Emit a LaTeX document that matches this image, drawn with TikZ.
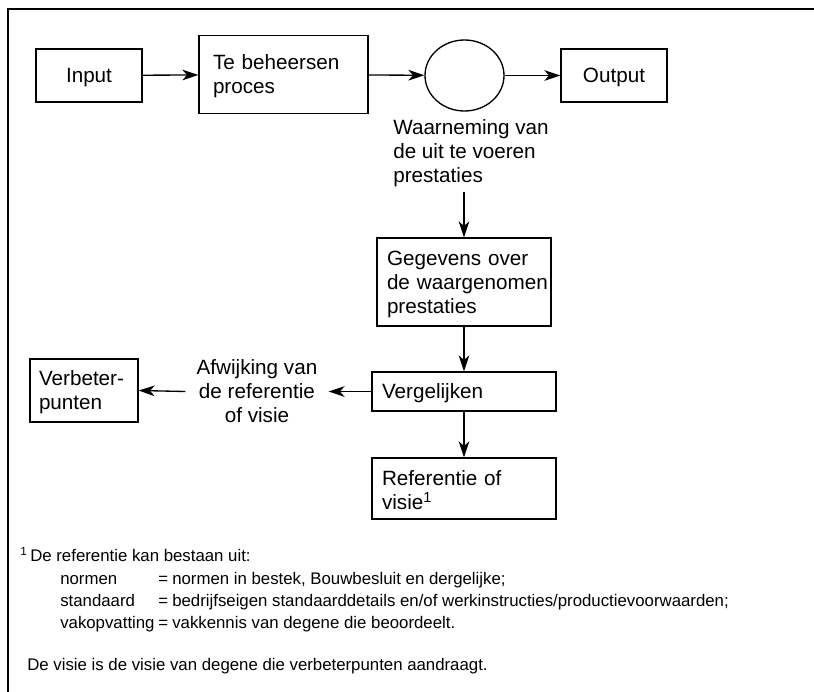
\documentclass[tikz,border=0pt]{standalone}
\usepackage{fontspec}
\setmainfont{Liberation Sans}
\usetikzlibrary{arrows.meta,shapes.geometric}
\newcommand\dn{\rule{0pt}{13.8pt}}
\begin{document}
\begin{tikzpicture}[x=0.75pt,y=-0.75pt,
  every node/.style={font=\fontsize{15.5}{18}\selectfont},
  box/.style={draw,line width=1pt,inner ysep=0pt},
  lbox/.style={box,align=left},
  arr/.style={-{Stealth[length=12pt,width=8pt,inset=3.5pt]},line width=1pt},
  lbl/.style={inner sep=0pt,align=left},
  foot/.style={inner sep=0pt,anchor=base west,font=\fontsize{12.6}{16}\selectfont}]
\useasboundingbox (0,0) rectangle (814,692);
% frame
\draw[line width=1.1pt] (8,692) -- (8,9) -- (814,9);
% top row
\node[box,minimum width=79.5pt,minimum height=39.75pt] (inp) at (89,75.5) {\dn Input};
\node[lbox,minimum height=58.5pt,inner xsep=10.5pt,text width=105.75pt] (tbp) at (283.5,74.5) {\dn Te beheersen\\proces};
\node[draw,line width=1pt,ellipse,inner sep=0pt,minimum width=59.25pt,minimum height=53.25pt] (ell) at (464.5,75.5) {};
\node[box,minimum width=79.5pt,minimum height=39.75pt] (out) at (614,75.5) {\dn Output};
\draw[arr] (inp) -- (tbp);
\draw[arr] (tbp) -- (ell);
\draw[arr] (ell) -- (out);
% observation text
\node[lbl,anchor=west] (waar) at (393,153) {Waarneming van\\de uit te voeren\\prestaties};
% middle column
\node[lbox,minimum height=66pt,inner xsep=7.5pt,text width=115.5pt] (gege) at (464,282) {\dn Gegevens over\\\mbox{de waargenomen}\\prestaties};
\node[lbox,minimum height=29.25pt,inner xsep=7.5pt,text width=123pt] (verg) at (464,391.5) {\dn Vergelijken};
\node[lbox,minimum height=45.75pt,inner xsep=7.5pt,text width=123pt] (refe) at (464,488.5) {\dn Referentie of\\visie\textsuperscript{1}};
\draw[arr,shorten <=4pt] (waar.south -| gege.north) -- (gege.north);
\draw[arr] (gege.south) -- (verg.north);
\draw[arr] (verg.south) -- (refe.north);
% left branch
\node[lbl,align=center,inner xsep=8.25pt] (afw) at (257,391.5) {Afwijking van\\de referentie\\of visie};
\node[lbox,minimum height=47.25pt,inner xsep=6.75pt,text width=67.5pt] (verb) at (84,390.5) {\dn Verbeter-\\punten};
\draw[arr] (verg.west) -- (afw.east);
\draw[arr] (afw.west) -- (verb.east);
% footnote
\node[foot] (f0) at (20,561) {\textsuperscript{1}\,De referentie kan bestaan uit:};
\node[foot] (f1a) at (60,584) {normen};
\node[foot] (f1b) at (158,584) {=};
\node[foot] (f1c) at (172,584) {normen in bestek, Bouwbesluit en dergelijke;};
\node[foot] (f2a) at (60,606) {standaard};
\node[foot] (f2b) at (158,606) {=};
\node[foot] (f2c) at (172,606) {bedrijfseigen standaarddetails en/of werkinstructies/productievoorwaarden;};
\node[foot] (f3a) at (60,628) {vakopvatting};
\node[foot] (f3b) at (158,628) {=};
\node[foot] (f3c) at (172,628) {vakkennis van degene die beoordeelt.};
\node[foot] (f4) at (27,670) {De visie is de visie van degene die verbeterpunten aandraagt.};
\end{tikzpicture}
\end{document}
